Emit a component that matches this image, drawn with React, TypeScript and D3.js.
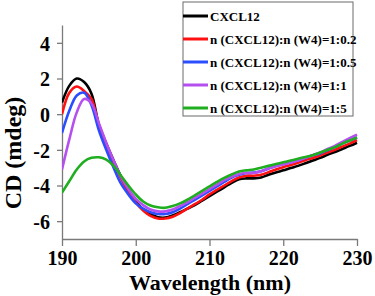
import * as d3 from 'd3'
import { useEffect, useRef } from 'react'

const wavelengths = d3.range(190, 231)

const cxcl12 = [0.65, 1.6, 2.0, 1.8, 1.15, -0.6, -1.65, -2.6, -3.5, -4.3, -4.9, -5.35, -5.6, -5.78, -5.8, -5.68, -5.5, -5.3, -5.1, -4.85, -4.6, -4.35, -4.1, -3.85, -3.65, -3.6, -3.6, -3.55, -3.4, -3.27, -3.15, -3.02, -2.9, -2.75, -2.6, -2.45, -2.28, -2.12, -1.95, -1.78, -1.6]
const ratio02 = [0.0, 1.2, 1.55, 1.3, 0.85, -0.6, -1.7, -2.7, -3.6, -4.35, -4.95, -5.4, -5.7, -5.85, -5.85, -5.75, -5.55, -5.3, -5.05, -4.8, -4.5, -4.25, -4.0, -3.75, -3.55, -3.45, -3.45, -3.4, -3.25, -3.1, -2.97, -2.85, -2.72, -2.58, -2.46, -2.32, -2.15, -2.0, -1.82, -1.65, -1.45]
const ratio05 = [-1.05, 0.2, 1.05, 1.2, 0.5, -0.9, -2.0, -3.0, -3.9, -4.5, -5.0, -5.3, -5.5, -5.6, -5.6, -5.5, -5.3, -5.05, -4.8, -4.55, -4.3, -4.05, -3.8, -3.55, -3.4, -3.3, -3.28, -3.2, -3.05, -2.9, -2.8, -2.7, -2.6, -2.45, -2.3, -2.2, -2.02, -1.85, -1.65, -1.48, -1.3]
const ratio1 = [-3.1, -1.4, 0.1, 0.85, 0.6, -0.5, -1.6, -2.6, -3.5, -4.2, -4.75, -5.1, -5.35, -5.45, -5.45, -5.35, -5.15, -4.95, -4.7, -4.45, -4.2, -3.95, -3.7, -3.5, -3.35, -3.3, -3.3, -3.2, -3.05, -2.92, -2.82, -2.72, -2.6, -2.45, -2.3, -2.15, -1.95, -1.78, -1.55, -1.35, -1.15]
const ratio5 = [-4.4, -3.75, -3.1, -2.65, -2.45, -2.42, -2.55, -2.9, -3.45, -4.0, -4.5, -4.9, -5.12, -5.22, -5.25, -5.15, -5.0, -4.8, -4.55, -4.3, -4.05, -3.8, -3.57, -3.38, -3.22, -3.15, -3.1, -3.0, -2.9, -2.8, -2.7, -2.6, -2.5, -2.4, -2.3, -2.15, -2.0, -1.85, -1.65, -1.48, -1.3]

const seriesNames = ['CXCL12', 'n (CXCL12):n (W4)=1:0.2', 'n (CXCL12):n (W4)=1:0.5', 'n (CXCL12):n (W4)=1:1', 'n (CXCL12):n (W4)=1:5']
const seriesValues = [cxcl12, ratio02, ratio05, ratio1, ratio5]
const colors = ['#000000', '#ff1010', '#2a4dff', '#b44ff0', '#1fae1f']

const xTicks = [190, 200, 210, 220, 230]
const yTicks = [-6, -4, -2, 0, 2, 4]

export default function App() {
  const svgRef = useRef<SVGSVGElement | null>(null)

  useEffect(() => {
    if (!svgRef.current) return
    const svg = d3.select(svgRef.current)
    svg.selectAll('*').remove()

    const width = 375
    const height = 296
    const margin = { top: 25, right: 18, bottom: 57, left: 62 }
    const innerW = width - margin.left - margin.right
    const innerH = height - margin.top - margin.bottom
    const font = 'Liberation Serif, Tinos, Times New Roman, DejaVu Serif, serif'
    const axisColor = '#7a7a7a'

    const x = d3.scaleLinear().domain([190, 230]).range([0, innerW])
    const y = d3.scaleLinear().domain([-7, 5]).range([innerH, 0])

    const g = svg.append('g').attr('transform', `translate(${margin.left},${margin.top})`)

    g.append('clipPath').attr('id', 'plot-clip')
      .append('rect').attr('x', 0).attr('y', -2).attr('width', innerW + 2).attr('height', innerH + 2)

    // x axis
    const xAxis = g.append('g').attr('transform', `translate(0,${innerH})`)
    xAxis.call(d3.axisBottom(x).tickValues(d3.range(195, 230, 10)).tickSize(4).tickFormat(() => ''))
    xAxis.call(d3.axisBottom(x).tickValues(xTicks).tickSize(7).tickSizeOuter(0).tickPadding(5).tickFormat(d3.format('d')))
    xAxis.selectAll('path, line').attr('stroke', axisColor).attr('stroke-width', 1.3)
    xAxis.selectAll('text')
      .attr('fill', '#000').attr('font-family', font).attr('font-weight', 'bold').attr('font-size', 20)

    // y axis
    const yAxis = g.append('g')
    yAxis.call(d3.axisLeft(y).tickValues(d3.range(-7, 6, 2)).tickSize(3).tickFormat(() => ''))
    yAxis.call(d3.axisLeft(y).tickValues(yTicks).tickSize(5).tickSizeOuter(0).tickPadding(7).tickFormat(d => String(d)))
    yAxis.selectAll('path, line').attr('stroke', axisColor).attr('stroke-width', 1.3)
    yAxis.selectAll('text')
      .attr('fill', '#000').attr('dy', '0.36em').attr('font-family', font).attr('font-weight', 'bold').attr('font-size', 20)
    // d3 axes set their own font-family on the group
    xAxis.attr('font-family', font)
    yAxis.attr('font-family', font)

    // lines
    const line = d3.line<number>()
      .x((_, i) => x(wavelengths[i]))
      .y(d => y(d))
      .curve(d3.curveCatmullRom)

    const plot = g.append('g').attr('clip-path', 'url(#plot-clip)')
    seriesValues.forEach((vals, i) => {
      plot.append('path')
        .datum(vals)
        .attr('fill', 'none')
        .attr('stroke', colors[i])
        .attr('stroke-width', 2.6)
        .attr('d', line)
    })

    // axis titles
    svg.append('text')
      .attr('x', 210).attr('y', 290)
      .attr('text-anchor', 'middle')
      .attr('font-family', font).attr('font-weight', 'bold').attr('font-size', 22)
      .text('Wavelength (nm)')

    svg.append('text')
      .attr('transform', 'translate(21,153) rotate(-90)')
      .attr('text-anchor', 'middle')
      .attr('font-family', font).attr('font-weight', 'bold').attr('font-size', 24)
      .text('CD (mdeg)')

    // legend
    const legend = svg.append('g').attr('transform', 'translate(183,2)')
    legend.append('rect')
      .attr('x', 0).attr('y', 0).attr('width', 170).attr('height', 114)
      .attr('fill', '#fff').attr('stroke', '#6a6a6a').attr('stroke-width', 1)
    seriesNames.forEach((name, i) => {
      const cy = 14 + i * 23
      legend.append('line')
        .attr('x1', 0).attr('x2', 25).attr('y1', cy).attr('y2', cy)
        .attr('stroke', colors[i]).attr('stroke-width', 3)
      legend.append('text')
        .attr('x', 27).attr('y', cy).attr('dy', '0.35em')
        .attr('font-family', font).attr('font-weight', 'bold').attr('font-size', 13)
        .text(name)
    })
  }, [])

  return (
    <svg ref={svgRef} width={375} height={296}
      style={{ position: 'absolute', left: 0, top: 0, background: '#fff' }} />
  )
}
